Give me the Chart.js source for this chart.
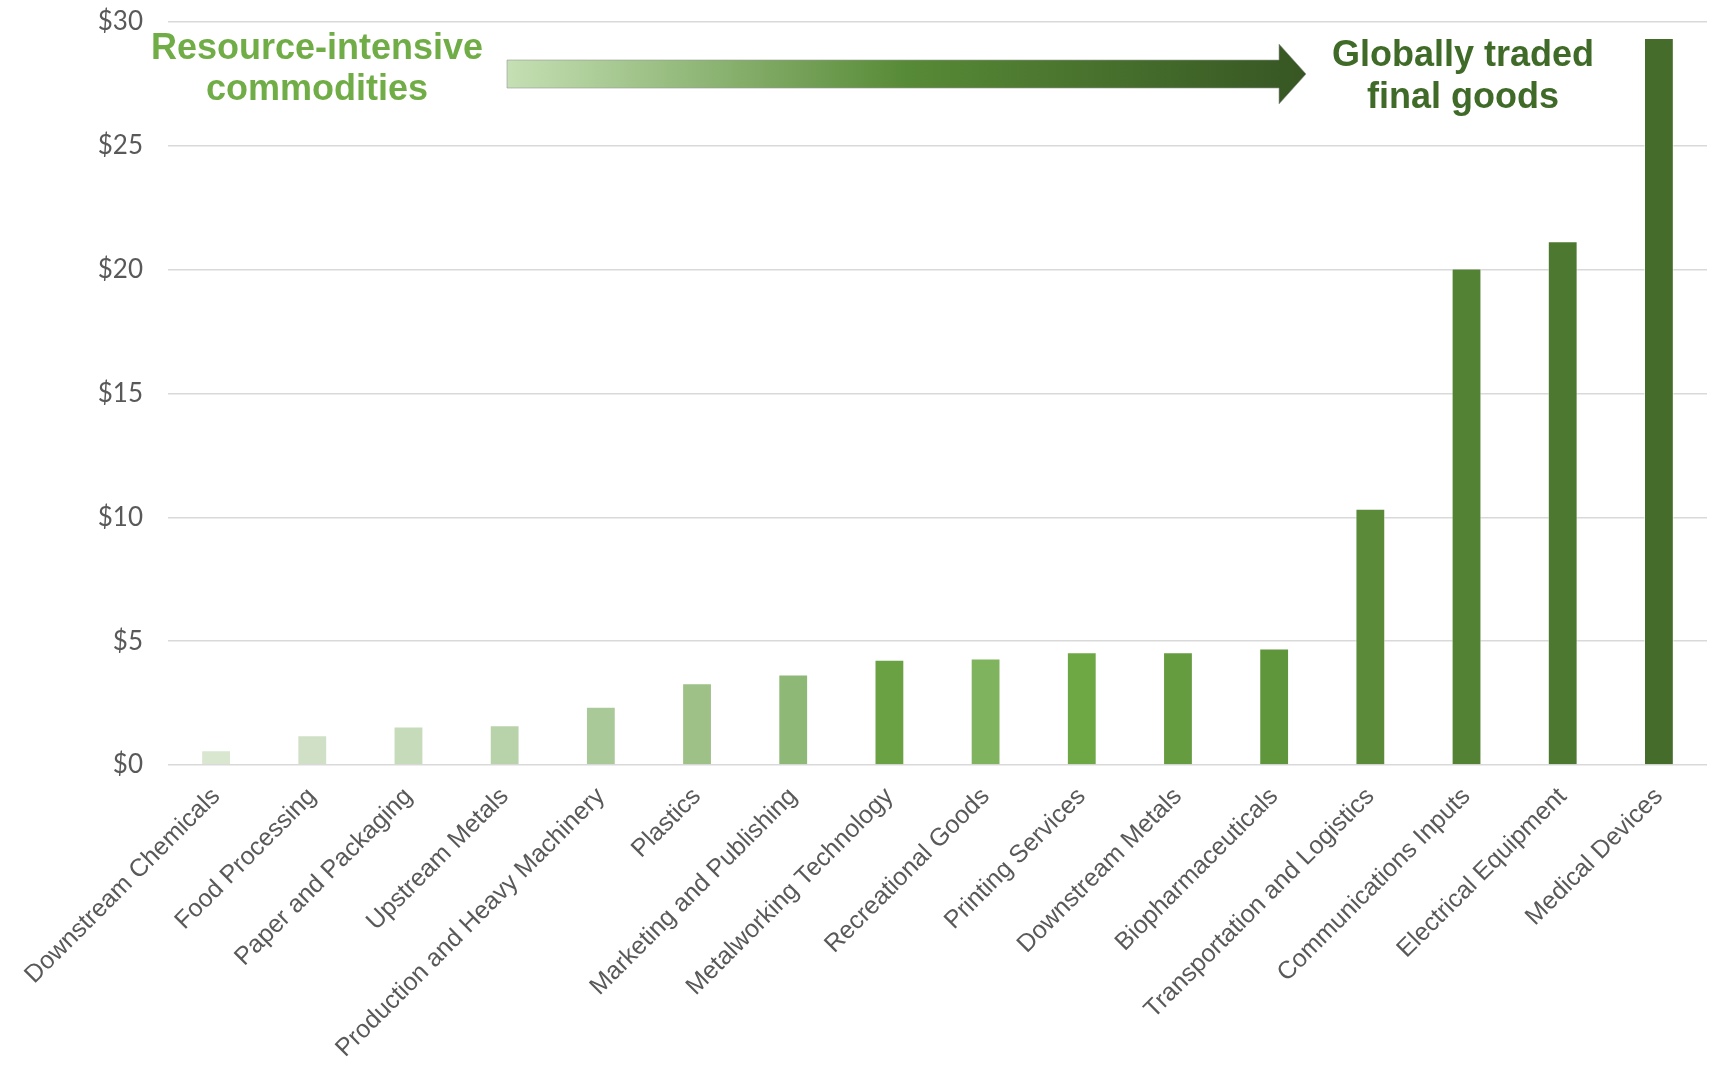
<!DOCTYPE html>
<html>
<head>
<meta charset="utf-8">
<script src="https://cdn.jsdelivr.net/npm/chart.js@4.4.1/dist/chart.umd.min.js"></script>
<style>
  html, body { margin: 0; padding: 0; background: #ffffff; }
  #wrap { width: 1721px; height: 1067px; }
</style>
</head>
<body>
<div id="wrap"><canvas id="c" width="1721" height="1067"></canvas></div>
<script>
const categories = [
  "Downstream Chemicals", "Food Processing", "Paper and Packaging", "Upstream Metals",
  "Production and Heavy Machinery", "Plastics", "Marketing and Publishing",
  "Metalworking Technology", "Recreational Goods", "Printing Services",
  "Downstream Metals", "Biopharmaceuticals", "Transportation and Logistics",
  "Communications Inputs", "Electrical Equipment", "Medical Devices"
];
const values = [0.6, 1.2, 1.55, 1.6, 2.35, 3.3, 3.65, 4.25, 4.3, 4.55, 4.55, 4.7, 10.35, 20.05, 21.15, 29.35];
const barColors = [
  "#d9e6d0", "#cfe0c6", "#c5dbb9", "#b8d2aa", "#a9ca98", "#9ec188", "#8db876",
  "#6aa143", "#80b35d", "#6ea845", "#659c3f", "#5f963b", "#5b8a39", "#548234",
  "#4c782f", "#456c2a"
];
const yTickValues = [0, 5, 10, 15, 20, 25, 30];
const leftNote = ["Resource-intensive", "commodities"];
const rightNote = ["Globally traded", "final goods"];

const notesPlugin = {
  id: "notes",
  afterDatasetsDraw(chart) {
    const ctx = chart.ctx;
    ctx.save();
    // gradient arrow
    const x0 = 507, x1 = 1279, tip = 1306, cy = 74, bh = 14, hh = 30;
    const g = ctx.createLinearGradient(x0, 0, tip, 0);
    g.addColorStop(0, "#c5e0b4");
    g.addColorStop(0.5, "#578a36");
    g.addColorStop(1, "#375623");
    ctx.beginPath();
    ctx.moveTo(x0, cy - bh);
    ctx.lineTo(x1, cy - bh);
    ctx.lineTo(x1, cy - hh);
    ctx.lineTo(tip, cy);
    ctx.lineTo(x1, cy + hh);
    ctx.lineTo(x1, cy + bh);
    ctx.lineTo(x0, cy + bh);
    ctx.closePath();
    ctx.fillStyle = g;
    ctx.fill();
    ctx.lineWidth = 1;
    ctx.strokeStyle = "rgba(150,150,150,0.6)";
    ctx.stroke();
    // notes
    ctx.font = "bold 36px 'Liberation Sans', Arial, sans-serif";
    ctx.textAlign = "center";
    ctx.textBaseline = "middle";
    ctx.fillStyle = "#70ad47";
    ctx.fillText(leftNote[0], 317, 49);
    ctx.fillText(leftNote[1], 317, 90);
    ctx.fillStyle = "#3f6a28";
    ctx.fillText(rightNote[0], 1463, 56);
    ctx.fillText(rightNote[1], 1463, 98);
    ctx.restore();
  }
};

new Chart(document.getElementById("c"), {
  type: "bar",
  data: {
    labels: categories,
    datasets: [{
      data: values,
      backgroundColor: barColors,
      borderColor: "rgba(255,255,255,0.55)",
      borderWidth: 1,
      barPercentage: 0.31,
      categoryPercentage: 1.0
    }]
  },
  options: {
    responsive: false,
    animation: false,
    devicePixelRatio: 1,
    layout: { padding: { left: 0, right: 14, top: 22, bottom: 0 } },
    plugins: { legend: { display: false }, tooltip: { enabled: false } },
    scales: {
      x: {
        grid: { display: false },
        border: { display: false },
        ticks: {
          autoSkip: false,
          maxRotation: 45,
          minRotation: 45,
          padding: 9,
          color: "#595959",
          font: { family: "'Liberation Sans', Arial, sans-serif", size: 25 }
        },
        afterFit(s) { s.height = 302; }
      },
      y: {
        min: 0,
        max: 30,
        afterBuildTicks(s) { s.ticks = yTickValues.map(v => ({ value: v })); },
        grid: { color: "#d9d9d9", lineWidth: 1.5, drawTicks: false },
        border: { display: false },
        ticks: {
          padding: 25,
          color: "#595959",
          font: { family: "Lato, 'Open Sans', sans-serif", size: 26 },
          callback: v => "$" + v
        },
        afterFit(s) { s.width = 168; s.paddingTop = 0; s.paddingBottom = 0; }
      }
    }
  },
  plugins: [notesPlugin]
});
</script>
</body>
</html>
